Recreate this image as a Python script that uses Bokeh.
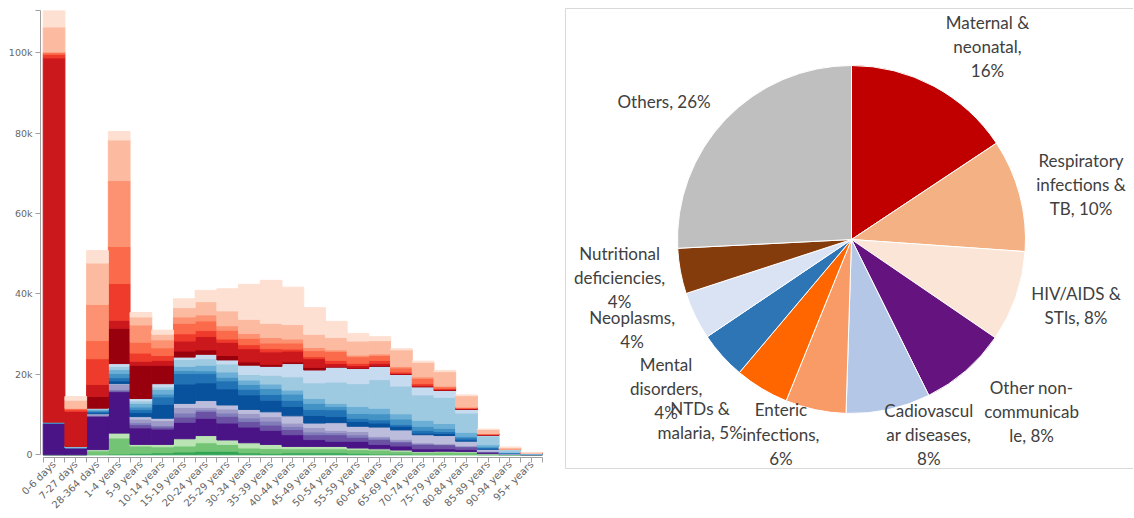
import numpy as np
from bokeh.plotting import figure
from bokeh.models import ColumnDataSource, Range1d, FixedTicker, NumeralTickFormatter
from bokeh.layouts import row
from bokeh.embed import file_html
from bokeh.resources import INLINE
from bokeh.core.properties import value

# ---------------- data: stacked bars (deaths, thousands) ----------------
age_groups = ["0-6 days", "7-27 days", "28-364 days", "1-4 years", "5-9 years",
              "10-14 years", "15-19 years", "20-24 years", "25-29 years", "30-34 years",
              "35-39 years", "40-44 years", "45-49 years", "50-54 years", "55-59 years",
              "60-64 years", "65-69 years", "70-74 years", "75-79 years", "80-84 years",
              "85-89 years", "90-94 years", "95+ years"]

green_1 = [0, 0, 0.1, 0.2, 0.4, 0.5, 0.7, 0.9, 0.9, 0.5, 0.4, 0.5, 0.5, 0.5, 0.4, 0.2, 0.2, 0.1, 0.1, 0.1, 0.05, 0, 0]
green_2 = [0, 0, 0.9, 4.0, 1.8, 1.5, 1.5, 2.1, 1.7, 1.2, 1.2, 1.0, 1.0, 1.0, 0.9, 1.0, 0.7, 0.5, 0.6, 0.5, 0.15, 0.05, 0.01]
green_3 = [0, 0, 0.3, 1.2, 0.4, 0.6, 1.8, 1.8, 1.1, 1.3, 1.0, 0.6, 0.6, 0.6, 0.4, 0.3, 0.3, 0.2, 0.2, 0.2, 0.1, 0.02, 0]

purple_1 = [7.8, 1.8, 8.3, 10.3, 4.1, 3.8, 4.1, 4.3, 4.2, 3.9, 3.5, 2.9, 1.7, 1.3, 1.7, 1.1, 1.0, 0.7, 0.6, 0.5, 0.2, 0.08, 0.04]
purple_2 = [0, 0, 0.1, 0.2, 0.8, 0.5, 1.3, 1.7, 1.7, 1.4, 1.3, 1.3, 1.2, 1.6, 1.0, 1.2, 1.0, 1.1, 1.0, 0.7, 0.3, 0.1, 0.08]
purple_3 = [0, 0, 0.1, 0.4, 0.5, 0.4, 1.0, 0.4, 0.8, 0.9, 1.0, 0.8, 0.7, 0.5, 0.6, 0.4, 0.2, 0.2, 0.1, 0.1, 0.05, 0, 0]
purple_4 = [0.1, 0, 0.3, 1.2, 0.9, 1.2, 1.4, 0.6, 1.0, 1.1, 1.1, 0.8, 1.1, 0.6, 0.8, 0.4, 0.5, 0.2, 0.2, 0.2, 0.05, 0, 0]
purple_5 = [0, 0, 0.1, 0.2, 0.6, 0.6, 1.0, 1.7, 1.0, 1.0, 1.2, 1.8, 1.1, 1.9, 1.3, 2.3, 2.3, 2.0, 2.0, 1.1, 0.5, 0.2, 0.07]

blue_1 = [0, 0, 0.3, 0.7, 1.0, 3.5, 4.8, 4.4, 4.0, 3.6, 2.9, 2.3, 1.9, 1.5, 1.2, 1.0, 0.9, 0.4, 0.5, 0.3, 0.1, 0, 0]
blue_2 = [0, 0, 0.3, 0.8, 0.8, 1.8, 2.6, 2.3, 2.0, 1.4, 1.4, 1.6, 1.5, 1.7, 0.8, 0.8, 0.4, 0.7, 0.5, 0.5, 0.3, 0.05, 0]
blue_3 = [0.1, 0, 0.3, 1.0, 0.6, 0.7, 0.8, 0.7, 0.9, 1.2, 1.5, 1.5, 1.5, 0.8, 1.2, 1.5, 1.4, 1.0, 0.8, 0.4, 0.2, 0.05, 0]
blue_4 = [0.1, 0.15, 0.2, 1.0, 0.9, 1.2, 1.0, 1.4, 1.3, 1.1, 1.1, 1.0, 1.2, 0.8, 1.7, 1.4, 1.3, 1.5, 1.2, 1.0, 0.5, 0.1, 0.03]
blue_5 = [0.1, 0.15, 0.2, 0.8, 0.6, 0.6, 1.7, 1.6, 2.0, 1.4, 2.2, 3.3, 3.9, 5.3, 5.7, 7.1, 6.9, 6.3, 6.5, 4.8, 2.2, 0.6, 0.12]
blue_6 = [0, 0, 0.1, 0.7, 0.6, 0.8, 0.6, 1.1, 1.0, 2.3, 2.2, 3.3, 3.2, 3.7, 3.8, 3.3, 2.9, 2.0, 1.7, 0.9, 0.2, 0.1, 0.02]

red_1 = [0, 0, 2.9, 8.8, 8.3, 4.6, 1.5, 1.1, 1.1, 0.8, 0.5, 0.4, 0.7, 0.2, 0.1, 0.2, 0.1, 0.1, 0.1, 0.1, 0.05, 0, 0]
red_2 = [90.5, 8.7, 3.0, 2.0, 1.0, 1.2, 2.5, 3.3, 3.3, 3.3, 3.1, 2.7, 2.1, 0.7, 0.6, 0.6, 0.2, 0.3, 0.2, 0.1, 0.15, 0.05, 0.05]
red_3 = [0.9, 0.4, 6.4, 9.1, 2.0, 1.2, 1.8, 1.5, 0.8, 1.0, 0.8, 0.5, 0.5, 0.8, 0.6, 0.7, 0.3, 0.4, 0.2, 0.1, 0.05, 0, 0]
red_4 = [0.4, 0.4, 4.5, 9.2, 2.7, 1.9, 2.6, 2.4, 2.2, 1.6, 1.4, 1.5, 1.5, 2.2, 1.6, 1.2, 1.0, 1.3, 0.4, 0.2, 0.1, 0.05, 0.02]
red_5 = [0.2, 0, 9.0, 16.4, 4.3, 2.0, 1.6, 1.5, 1.1, 1.2, 1.4, 1.0, 0.8, 0.4, 0.4, 0.4, 0.4, 0.4, 0.2, 0.1, 0.05, 0, 0]
red_6 = [6.2, 2.0, 10.3, 10.1, 2.0, 1.4, 2.3, 3.3, 3.7, 3.5, 3.5, 3.6, 3.3, 3.1, 3.5, 3.3, 4.1, 3.6, 3.6, 2.8, 1.0, 0.4, 0.06]
red_7 = [4.1, 0.9, 3.1, 2.1, 1.1, 1.0, 2.2, 2.8, 5.5, 8.7, 10.7, 9.3, 6.6, 4.0, 1.9, 1.0, 0.3, 0.3, 0.3, 0.2, 0.1, 0.05, 0]

y_ticks = [0, 20000, 40000, 60000, 80000, 100000]

# ---------------- data: pie ----------------
pie_causes = ["Maternal & neonatal", "Respiratory infections & TB", "HIV/AIDS & STIs",
              "Other non-communicable", "Cadiovascular diseases", "Enteric infections",
              "NTDs & malaria", "Mental disorders", "Neoplasms", "Nutritional deficiencies",
              "Others"]
pie_share = [15.6, 10.4, 8.4, 8.1, 7.8, 5.6, 5.0, 4.4, 4.4, 4.2, 25.7]

# ---------------- styles / layout ----------------
layer_values = [green_1, green_2, green_3,
                purple_1, purple_2, purple_3, purple_4, purple_5,
                blue_1, blue_2, blue_3, blue_4, blue_5, blue_6,
                red_1, red_2, red_3, red_4, red_5, red_6, red_7]
layer_colors = ["#31a354", "#74c476", "#bae4b3",
                "#4a1486", "#6a51a3", "#807dba", "#9e9ac8", "#bcbddc",
                "#08519c", "#2171b5", "#4292c6", "#6baed6", "#9ecae1", "#c6dbef",
                "#99000d", "#cb181d", "#ef3b2c", "#fb6a4a", "#fc9272", "#fcbba1", "#fee0d2"]
pie_colors = ["#c00000", "#f4b183", "#fbe5d6", "#65147f", "#b4c7e7", "#f99b66",
              "#ff6600", "#2e75b6", "#dae3f3", "#843c0c", "#bfbfbf"]
# where each pie label line is broken (character index in "name, pct%")
label_breaks = [[10, 20], [11, 24], [10], [10, 20], [11, 23], [7, 19], [6], [6, 17], [10], [11, 25], []]
# label placement: (angle nudge from slice middle in degrees, distance from centre in px)
label_place = [(7.0, 236), (1.4, 236), (-2.8, 234), (-5.3, 249), (-9.3, 210), (8.0, 207),
               (8.8, 236), (3.1, 238), (3.8, 237), (1.2, 235), (-7.1, 233)]

AXIS_GREY = "#a0a0a0"
TEXT_GREY = "#666666"
AXIS_FONT = "DejaVu Sans"
PAGE_H = 517

# ---------------- left: stacked bar chart ----------------
n = len(age_groups)
keys = [f"layer{i}" for i in range(len(layer_values))]
data = {"x": np.arange(n) + 0.5}
for k, v in zip(keys, layer_values):
    data[k] = np.asarray(v, dtype=float) * 1000.0
src = ColumnDataSource(data)
totals = np.sum([data[k] for k in keys], axis=0)
ymax = float(totals.max())
ypad = ymax * 0.006

p = figure(width=560, height=PAGE_H, x_range=Range1d(-0.125, n), y_range=Range1d(-ypad, ymax),
           output_backend="svg", toolbar_location=None,
           min_border_left=40, min_border_right=18, min_border_top=10, min_border_bottom=40)
p.vbar_stack(keys, x="x", width=1.0, color=layer_colors, source=src)

p.xgrid.visible = False
p.ygrid.visible = False
p.outline_line_color = None

for ax in (p.xaxis[0], p.yaxis[0]):
    ax.axis_line_color = AXIS_GREY
    ax.major_tick_line_color = AXIS_GREY
    ax.minor_tick_line_color = AXIS_GREY
    ax.major_tick_in = 0
    ax.minor_tick_in = 0
    ax.major_label_text_color = TEXT_GREY
    ax.major_label_text_font = AXIS_FONT

yax = p.yaxis[0]
yax.ticker = FixedTicker(ticks=y_ticks + [ymax])
yax.formatter = NumeralTickFormatter(format="0a")
yax.major_label_overrides = {ymax: ""}
yax.major_label_text_font_size = "9.5px"
yax.bounds = (0, ymax)
yax.major_tick_out = 5
yax.major_label_standoff = 3
yax.minor_tick_line_color = None

xax = p.xaxis[0]
centers = [float(c) for c in data["x"]]
xax.ticker = FixedTicker(ticks=centers, minor_ticks=list(range(n + 1)))
xax.major_label_overrides = {c: name for c, name in zip(centers, age_groups)}
xax.major_label_orientation = np.pi / 4
xax.major_label_text_font_size = "10px"
xax.major_label_standoff = 0
xax.bounds = (0, n)
xax.major_tick_out = 5
xax.minor_tick_out = 5

# ---------------- right: pie chart ----------------
X0, W = 560, 573
q = figure(frame_width=W, frame_height=PAGE_H, x_range=Range1d(X0, X0 + W), y_range=Range1d(0, PAGE_H),
           output_backend="svg", toolbar_location=None, min_border=0,
           x_axis_type=None, y_axis_type=None)
q.xgrid.visible = False
q.ygrid.visible = False
q.outline_line_color = None
for fig in (p, q):
    try:
        fig.frame_align = False
    except Exception:
        pass

# panel border (extends beyond the right edge)
q.quad(left=565, right=X0 + W + 100, bottom=PAGE_H - 468, top=PAGE_H - 8,
       fill_color=None, line_color="#d9d9d9", line_width=1)

cx, cy, r = 851, PAGE_H - 239, 174
share = np.asarray(pie_share, dtype=float)
frac = share / share.sum()
ends = np.cumsum(frac)
starts = ends - frac
pie_src = ColumnDataSource(dict(
    start=np.pi / 2 - ends * 2 * np.pi,
    end=np.pi / 2 - starts * 2 * np.pi,
    color=pie_colors))
q.wedge(x=cx, y=cy, radius=r, start_angle="start", end_angle="end",
        fill_color="color", line_color="white", line_width=1, source=pie_src)

texts, lx, ly = [], [], []
for i, name in enumerate(pie_causes):
    full = f"{name}, {round(pie_share[i])}%"
    cuts = [0] + label_breaks[i] + [len(full)]
    lines = [full[a:b].strip() for a, b in zip(cuts[:-1], cuts[1:])]
    texts.append("\n".join(lines))
    mid = (starts[i] + ends[i]) / 2 * 360.0
    th = np.radians(mid + label_place[i][0])
    d = label_place[i][1]
    lx.append(cx + d * np.sin(th))
    ly.append(cy + d * np.cos(th))

lbl_src = ColumnDataSource(dict(x=lx, y=ly, text=texts))
q.text(x="x", y="y", text="text", source=lbl_src, text_align="center", text_baseline="middle",
       text_font=value("Lato"), text_font_size="17px", text_color="#404040",
       text_line_height=1.15)

layout = row(p, q)
open("out.html", "w").write(file_html(layout, INLINE))
